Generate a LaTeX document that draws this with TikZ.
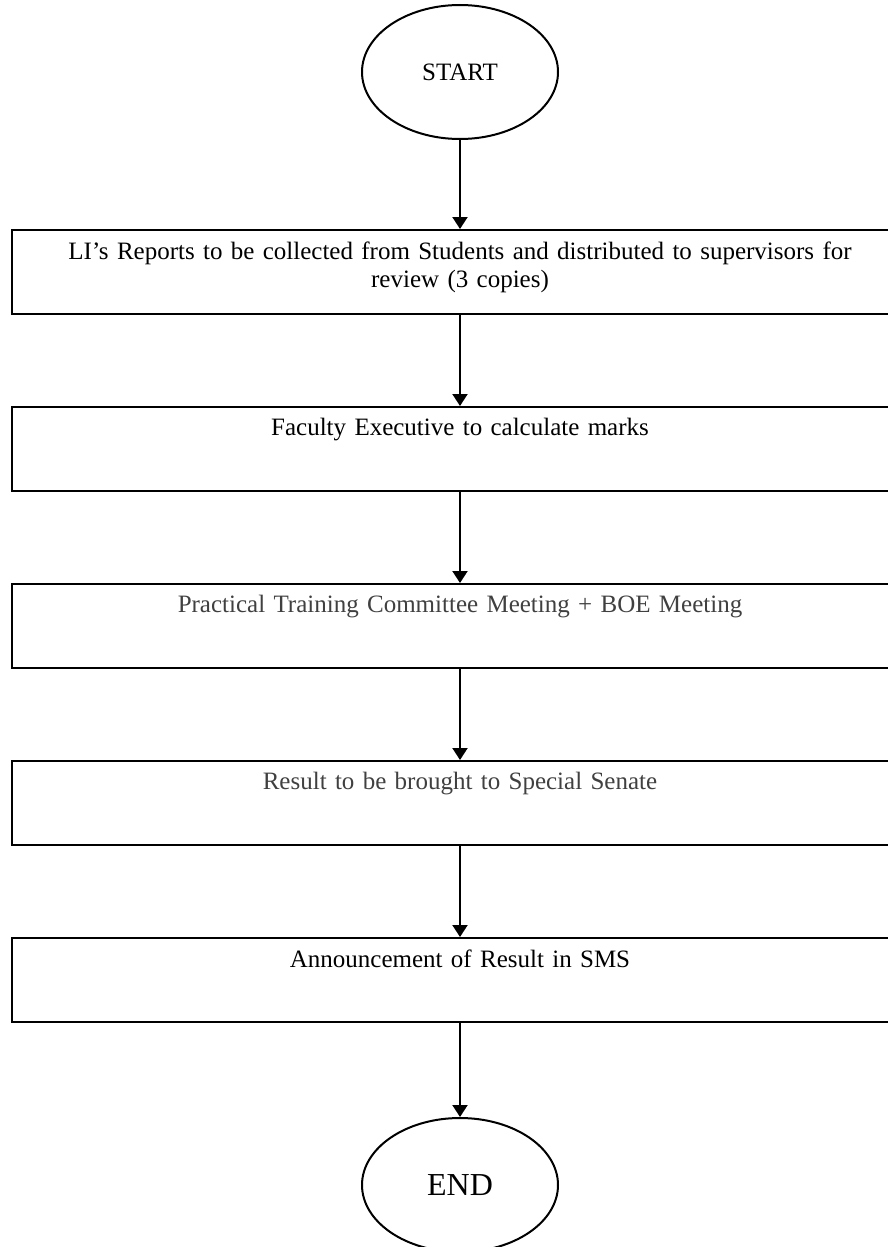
\documentclass[tikz,border=0pt]{standalone}
\usepackage{fontspec}
\setmainfont{Liberation Serif}
\usetikzlibrary{arrows.meta}
\usetikzlibrary{shapes.geometric}
\usetikzlibrary{positioning}
\definecolor{TextGrey}{HTML}{404040}

\tikzset{
  terminal/.style={draw, ellipse, line width=1pt, minimum width=98pt,
    minimum height=67pt, inner sep=0pt},
  procbox/.style={draw, rectangle, line width=1pt, minimum width=448pt,
    minimum height=42pt, inner sep=0pt},
  proctext/.style={anchor=north, align=center, inner sep=0pt, text width=430pt,
    font=\fontsize{12.5}{14}\selectfont},
  flow/.style={line width=1pt, -{Triangle[length=6pt,width=7.5pt]}}
}

\begin{document}
\begin{tikzpicture}[x=0.5pt, y=-0.5pt]
  \useasboundingbox (0,0) rectangle (888,1247);
  \clip (0,0) rectangle (888,1247);

  \node[terminal, font=\fontsize{12.5}{14}\selectfont] (start) at (460,72) {START};

  \node[procbox] (collect)  at (460,272) {};
  \node[procbox] (marks)    at (460,449) {};
  \node[procbox] (meeting)  at (460,626) {};
  \node[procbox] (senate)   at (460,803) {};
  \node[procbox] (announce) at (460,980) {};

  \node[terminal, font=\fontsize{16}{19}\selectfont] (end) at (460,1185) {END};

  % texts sit at the top of each box
  \node[proctext] (collect-txt) at ([yshift=-6pt]collect.north)
    {LI’s Reports to be collected from Students and distributed to supervisors for\\review (3 copies)};
  \node[proctext] (marks-txt) at ([yshift=-6pt]marks.north)
    {Faculty Executive to calculate marks};
  \node[proctext, text=TextGrey] (meeting-txt) at ([yshift=-6pt]meeting.north)
    {Practical Training Committee Meeting + BOE Meeting};
  \node[proctext, text=TextGrey] (senate-txt) at ([yshift=-6pt]senate.north)
    {Result to be brought to Special Senate};
  \node[proctext] (announce-txt) at ([yshift=-6pt]announce.north)
    {Announcement of Result in SMS};

  \foreach \from/\to in {start/collect, collect/marks, marks/meeting,
                         meeting/senate, senate/announce, announce/end}{%
    \draw[flow] (\from) -- (\to);
  }
\end{tikzpicture}
\end{document}
